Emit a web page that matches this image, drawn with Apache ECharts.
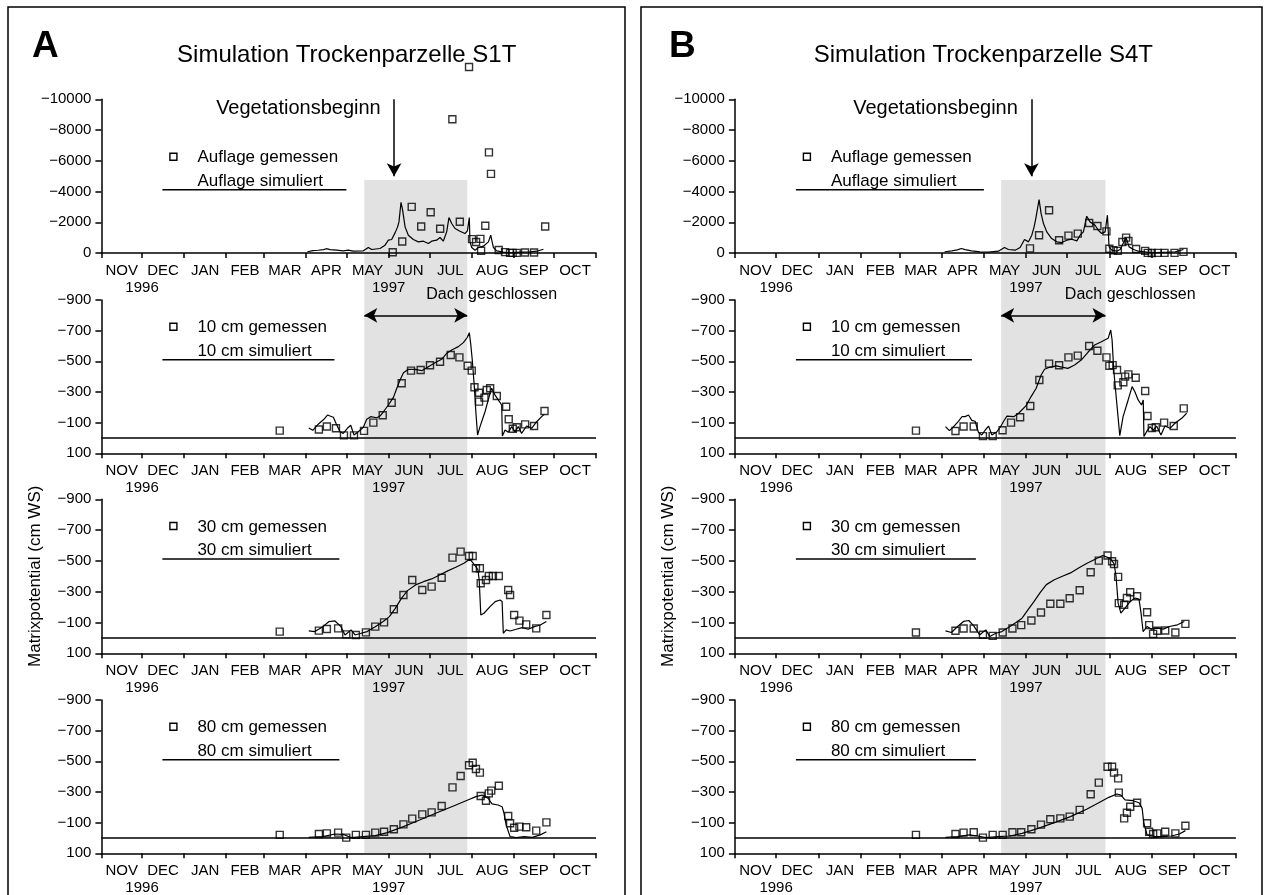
<!DOCTYPE html>
<html><head><meta charset="utf-8">
<script src="https://cdn.jsdelivr.net/npm/echarts@6/dist/echarts.min.js"></script>
<style>html,body{margin:0;padding:0;background:#fff}#c{width:1265px;height:895px}</style>
</head><body><div id="c"></div>
<script>
// ---------- axis definitions (days since 1996-11-01) ----------
const monthTicks = [0,30,61,92,120,151,181,212,242,273,304,334,365];
const monthLabels = ['NOV','DEC','JAN','FEB','MAR','APR','MAY','JUN','JUL','AUG','SEP','OCT'];
const yearLabels = ['1996','1997'];
const yearLabelDays = [30,212];
const yTicksAuflage = [-10000,-8000,-6000,-4000,-2000,0];
const yTicksSoil = [-900,-700,-500,-300,-100,100];
const shadeDays = [194,270];
const vegArrow = {day:216, from:-10000, to:-5000};
const vegText = {day:206.5, value:-9400, text:'Vegetationsbeginn'};
const roofArrow = {from:194, to:270, value:-800};
const roofText = {day:288, value:-900, text:'Dach geschlossen'};
const depthNames = ['Auflage','10 cm','30 cm','80 cm'];
const panelTitles = ['Simulation Trockenparzelle S1T','Simulation Trockenparzelle S4T'];
const panelLetters = ['A','B'];
const yAxisTitle = 'Matrixpotential (cm WS)';

// ---------- Panel A (S1T) ----------
const A_auflage_meas = [[215,-50],[222,-750],[229,-3000],[236,-1720],[243,-2650],[250,-1580],[259,-8700],[264.5,-2030],[271.3,-12100],[273.5,-900],[276.5,-720],[279.7,-920],[280.2,-150],[283.3,-1770],[286,-6550],[287.5,-5150],[293.2,-200],[297.9,-60],[301.6,-10],[303.5,-10],[306.5,-10],[312.6,-30],[319.3,-30],[327.5,-1720]];
const A_auflage_sim = [[152,-80],[156,-150],[160,-180],[164,-220],[166,-280],[168.7,-221],[173.6,-182],[178.5,-139],[182.2,-182],[185.9,-117],[193.3,-139],[197,-356],[199.5,-226],[205.6,-291],[209.3,-508],[211.8,-833],[214.2,-876],[216.7,-1310],[218.6,-1700],[219.6,-2025],[221.1,-3300],[222.3,-2784],[224.1,-1700],[226.5,-1158],[230.2,-876],[233.9,-725],[237.6,-768],[241.3,-616],[243.7,-768],[247.4,-833],[249.9,-1007],[252.3,-768],[254.8,-1375],[256.5,-2307],[258.5,-1917],[261,-1592],[264.6,-1418],[268.3,-1266],[270.1,-1440],[271.5,-2307],[272,-725],[273.3,-356],[275.7,-182],[278.2,-356],[281.9,-443],[285.6,-725],[287.3,-1158],[289.3,-356],[291.7,-139],[296.6,-52],[301.6,-9],[309,-52],[316.4,-74],[321.3,-117],[326.2,-247]];
const A_10_meas = [[131.6,-48],[160.5,-55],[166.4,-75],[173.1,-63],[179,-17],[186.4,-17],[193.8,-46],[200.7,-100],[207.6,-148],[214.2,-230],[221.6,-357],[228.5,-439],[235.6,-443],[242.5,-474],[249.9,-497],[257.8,-541],[264.2,-526],[270.3,-471],[273.3,-439],[275.3,-331],[278.7,-295],[278.7,-237],[282.7,-263],[284.4,-313],[286.9,-324],[291.8,-274],[298.7,-204],[300.6,-122],[303.6,-60],[306.5,-70],[312.7,-89],[319.3,-78],[327,-176]];
const A_10_sim = [[153,-65],[156,-50],[160,-90],[164,-120],[167,-150],[168.7,-143],[171.2,-135],[173.1,-96],[176.1,-41],[178.5,-30],[181.5,-63],[184,-83],[186.4,-19],[189.6,-41],[193.3,-70],[195.8,-122],[198.7,-139],[203.2,-132],[205.6,-143],[208.1,-171],[211.8,-215],[215.5,-265],[218,-324],[220.4,-378],[222.9,-426],[226.6,-448],[231.5,-448],[236.4,-439],[241.3,-465],[246.2,-491],[251.1,-513],[254.8,-552],[258.5,-574],[263.4,-596],[267.1,-622],[270.1,-657],[271.5,-687],[272.5,-617],[273.7,-509],[275.2,-335],[276.4,-161],[277.6,-19],[279.4,-74],[283.1,-171],[286.8,-291],[288,-324],[290.5,-280],[292.9,-248],[295.4,-215],[295.9,-13],[297.9,-52],[300.3,-37],[302.8,-74],[305.2,-41],[307.7,-74],[310.1,-30],[313.8,-78],[317.5,-63],[321.2,-106],[324.9,-139],[326.9,-154]];
const A_30_meas = [[131.6,-41],[160.5,-47],[166.4,-58],[174.7,-62],[180.7,-23],[187.8,-19],[195.2,-36],[202.1,-73],[208.6,-101],[215.8,-186],[222.9,-279],[229.4,-376],[236.8,-311],[243.7,-333],[251.1,-391],[259.1,-521],[265.1,-560],[271.3,-532],[274,-532],[276.4,-452],[279.3,-452],[279.9,-355],[283.8,-376],[285.9,-402],[288.9,-402],[293.3,-402],[300.2,-311],[301.6,-279],[304.6,-149],[308.5,-112],[313.5,-88],[320.9,-62],[328.4,-149]];
const A_30_sim = [[153,-45],[157.5,-41],[163.4,-73],[168,-106],[172.4,-110],[176.8,-73],[179.8,-19],[184.2,-52],[187.2,-19],[191.7,-30],[196.1,-41],[202.1,-73],[208,-106],[212.5,-138],[216.9,-192],[221.4,-257],[225.9,-307],[231.8,-344],[237.7,-365],[243.7,-383],[249.6,-409],[255.6,-435],[261.5,-459],[267.5,-485],[271.9,-511],[273.4,-495],[276.4,-463],[277.9,-441],[278.8,-376],[280,-149],[282.3,-160],[286.8,-203],[290.6,-236],[294.2,-246],[295.7,-236],[296.6,-30],[298.7,-52],[301.6,-45],[306.1,-56],[310.5,-67],[315,-56],[319.5,-73],[323.9,-84],[328.4,-106]];
const A_80_meas = [[131.6,-20],[160.5,-26],[166.4,-30],[174.7,-35],[180.7,-2],[187.8,-20],[195.2,-20],[202.1,-35],[208.6,-41],[215.8,-57],[222.9,-89],[229.4,-126],[236.8,-154],[243.7,-167],[251.1,-209],[259.1,-330],[265.1,-404],[271.3,-474],[274,-491],[276.4,-450],[279.3,-426],[279.9,-274],[283.8,-243],[285.9,-291],[287.7,-309],[293.3,-341],[300.2,-143],[301.6,-96],[304.6,-67],[308.5,-74],[313.5,-70],[320.9,-48],[328.4,-102]];
const A_80_sim = [[153,-4],[163.4,-9],[172.4,-26],[178.3,-24],[184.2,-2],[193.2,-9],[202.1,-15],[211,-35],[222.9,-74],[234.8,-117],[246.7,-161],[258.5,-204],[270.4,-248],[276.4,-270],[280.8,-280],[285.3,-259],[288.3,-222],[292.7,-215],[295.7,-204],[297.1,-161],[298.7,-85],[301.6,-9],[306.1,-2],[312,-9],[318,-4],[323.9,-20],[328.4,-41]];

// ---------- Panel B (S4T) ----------
const B_auflage_meas = [[215,-300],[221.6,-1150],[228.9,-2780],[236.2,-825],[243,-1130],[249.8,-1260],[258.1,-1950],[264.1,-1760],[270.7,-1410],[272.8,-280],[275.8,-180],[279,-140],[282.3,-720],[285,-1000],[286.7,-780],[292.3,-260],[298.9,-140],[300.8,-10],[303.7,0],[308.1,-10],[313,-10],[320.3,-10],[326.8,-70]];
const B_auflage_sim = [[152.8,-80],[158,-140],[162,-200],[165,-290],[167.7,-221],[172.5,-139],[178.6,-74],[184.7,-52],[192,-117],[196.4,-356],[199.3,-226],[204.2,-182],[207.8,-356],[211,-876],[213.9,-725],[216.3,-1158],[218,-1700],[219.2,-2242],[221.6,-3478],[223.1,-2567],[224.8,-1917],[227.2,-1375],[230.8,-941],[234.5,-725],[238.1,-681],[241.8,-833],[245.4,-898],[249.1,-790],[251.5,-1158],[253.9,-1375],[256.3,-2394],[258.7,-2025],[262.4,-1808],[264.8,-1483],[267.2,-1266],[269.7,-1375],[271.4,-2459],[272.6,-399],[274.6,-182],[278.2,-117],[280.7,-226],[283.1,-660],[285,-1002],[287.2,-399],[290.4,-226],[294,-117],[300.1,-52],[307.4,-30],[314.7,-52],[320.8,-74],[326.8,-226]];
const B_10_meas = [[131.9,-48],[160.7,-45],[166.6,-75],[174,-75],[180.7,-12],[187.8,-12],[195,-50],[201.2,-100],[207.8,-135],[215.2,-209],[221.8,-378],[228.9,-485],[236.2,-474],[243,-526],[249.8,-537],[258.1,-600],[264.1,-569],[270.7,-526],[272.8,-471],[275.2,-475],[278.4,-443],[278.9,-343],[283,-363],[284.3,-400],[286.7,-415],[292,-393],[298.9,-306],[300.6,-143],[303.7,-65],[306.6,-70],[312.7,-100],[319.7,-78],[327,-193]];
const B_10_sim = [[153.4,-74],[156.3,-48],[160,-80],[163,-110],[165.5,-140],[167.7,-139],[170.2,-150],[172.6,-115],[175,-109],[177.5,-35],[179.9,-20],[182.4,-52],[184.8,-78],[187.2,-20],[190.9,-41],[193.3,-70],[195.8,-109],[198.2,-143],[203.1,-139],[206.7,-161],[212,-209],[215.8,-270],[219.5,-324],[223.1,-411],[225.6,-448],[229.2,-461],[234.1,-470],[239,-461],[242.6,-454],[247.5,-476],[252.3,-508],[257.2,-559],[262.1,-607],[267,-628],[271.9,-650],[273.8,-704],[274.8,-639],[276,-443],[278,-248],[280.4,-15],[282.8,-139],[286.5,-248],[289.4,-335],[291.4,-302],[293.8,-248],[296.2,-215],[297.5,-248],[298,-9],[299.9,-41],[302.4,-74],[304.8,-52],[307.2,-78],[310.4,-20],[313.3,-78],[317,-63],[320.6,-96],[325.5,-128],[329.1,-161]];
const B_30_meas = [[131.9,-35],[160.7,-46],[166.6,-61],[174,-61],[180.7,-20],[187.8,-13],[195.1,-35],[202.2,-61],[208.6,-83],[216,-113],[223,-165],[229.8,-222],[237.1,-222],[243.9,-257],[251.2,-309],[259.2,-426],[265.1,-502],[271.5,-535],[274.8,-498],[276.2,-480],[279.2,-396],[279.7,-226],[283.6,-215],[285.6,-259],[288,-296],[293,-270],[300.3,-167],[301.8,-83],[304.7,-26],[307.7,-46],[313.5,-48],[320.9,-35],[328.2,-91]];
const B_30_sim = [[153.4,-46],[157.8,-35],[162.2,-74],[166.6,-107],[170.4,-113],[174,-78],[178.4,-20],[182.8,-52],[185.7,-9],[190.1,-30],[194.5,-41],[200.4,-74],[204.8,-100],[209.2,-128],[213.6,-183],[218,-237],[222.5,-296],[226.9,-346],[232.7,-378],[238.6,-400],[244.5,-422],[250.4,-454],[256.2,-483],[262.1,-509],[268,-535],[272.4,-520],[273.9,-510],[276.2,-483],[277.7,-400],[279.2,-226],[281.2,-161],[284.2,-193],[288,-237],[291.5,-259],[294.4,-252],[295.9,-161],[297.4,-41],[300.3,-74],[303.3,-57],[307.7,-63],[312.1,-57],[316.5,-74],[322.4,-85],[327.4,-107]];
const B_80_meas = [[131.9,-20],[160.7,-26],[166.6,-35],[174,-37],[180.7,-2],[187.8,-20],[195.1,-20],[202.2,-37],[208.6,-37],[216,-57],[223,-87],[229.8,-122],[237.1,-128],[243.9,-139],[251.2,-183],[259.2,-285],[265.1,-361],[271.5,-465],[274.8,-465],[276.2,-426],[279.2,-389],[279.7,-296],[283.6,-128],[285.6,-165],[288,-204],[293,-230],[300.3,-96],[301.8,-41],[304.7,-26],[307.7,-30],[313.5,-41],[320.9,-30],[328.2,-80]];
const B_80_sim = [[153.4,-4],[162.2,-9],[171,-20],[176.9,-13],[182.8,-2],[191.6,-9],[200.4,-13],[209.2,-30],[221,-63],[232.7,-100],[244.5,-139],[256.2,-187],[265.1,-230],[272.4,-265],[278.3,-287],[281.2,-280],[284.2,-248],[290.1,-243],[294.4,-230],[296.7,-193],[297.9,-96],[300.3,-20],[306.1,-9],[312,-9],[317.9,-13],[323.8,-26],[328.2,-48]];

const measured = [[A_auflage_meas,A_10_meas,A_30_meas,A_80_meas],[B_auflage_meas,B_10_meas,B_30_meas,B_80_meas]];
const simulated = [[A_auflage_sim,A_10_sim,A_30_sim,A_80_sim],[B_auflage_sim,B_10_sim,B_30_sim,B_80_sim]];

// ---------- layout ----------
const FONT = '"Liberation Sans", Arial, sans-serif';
const panels = [
  {x0:101.4, w:494.6, box:[8,7,617,900], letterX:32, legendLine:[245,233,238,238]},
  {x0:734.9, w:501.0, box:[641,7,621,900], letterX:669, legendLine:[249,237,241,241]}
];
const plotTops = [99.3,300,499.3,700];
const plotHeights = [153.7,153.3,154,153.3];
const shadeTop = 180, shadeBottom = 853.3;
const legendOffset = [57.4,26.7,26.7,26.7];

const midVals = monthTicks.slice(0,-1).map((d,i)=>(d+monthTicks[i+1])/2);
const xLabelVals = midVals.concat(yearLabelDays);
function xFmt(v){
  const i = midVals.findIndex(m=>Math.abs(m-v)<0.01);
  if (i>=0) return monthLabels[i];
  const j = yearLabelDays.findIndex(m=>Math.abs(m-v)<0.01);
  return j>=0 ? '\n'+yearLabels[j] : '';
}
function yFmt(v){ return v<0 ? '\u2212'+Math.abs(v) : String(v); }

const grid=[], xAxis=[], yAxis=[], series=[], graphic=[];
const black = '#000';

panels.forEach((P,pi)=>{
  // shaded "roof closed" band, spanning all four plots
  const gs = grid.length;
  grid.push({left:P.x0, top:shadeTop, width:P.w, height:shadeBottom-shadeTop, containLabel:false, outerBoundsMode:'none'});
  xAxis.push({gridIndex:gs, type:'value', min:0, max:365, show:false});
  yAxis.push({gridIndex:gs, type:'value', min:0, max:1, show:false});
  series.push({type:'line', xAxisIndex:gs, yAxisIndex:gs, data:[[shadeDays[0],0.5]], symbol:'none', lineStyle:{width:0,opacity:0}, silent:true,
    markArea:{silent:true, z:1, itemStyle:{color:'#e2e2e2'}, label:{show:false}, data:[[{xAxis:shadeDays[0]},{xAxis:shadeDays[1]}]]}});

  // panel box, letter, title
  graphic.push({type:'rect', z:-20, silent:true, shape:{x:P.box[0],y:P.box[1],width:P.box[2],height:P.box[3]}, style:{fill:'none', stroke:black, lineWidth:1.5}});
  graphic.push({type:'text', silent:true, x:P.letterX, y:47, style:{text:panelLetters[pi], fill:black, fontSize:37, fontWeight:'bold', fontFamily:'"Liberation Sans", Arial, sans-serif', align:'left', verticalAlign:'middle'}});
  graphic.push({type:'text', silent:true, x:P.x0+P.w/2-2, y:55, style:{text:panelTitles[pi], fill:black, fontSize:24, fontFamily:FONT, align:'center', verticalAlign:'middle'}});

  for (let k=0;k<4;k++){
    const gi = grid.length;
    const top = plotTops[k];
    grid.push({left:P.x0, top:top, width:P.w, height:plotHeights[k], containLabel:false, outerBoundsMode:'none'});
    xAxis.push({gridIndex:gi, type:'value', min:0, max:365, z:5,
      axisLine:{show:true, onZero:false, lineStyle:{color:black, width:1.5}},
      axisTick:{show:true, customValues:monthTicks, length:5, lineStyle:{color:black, width:1.5}},
      axisLabel:{show:true, customValues:xLabelVals, formatter:xFmt, color:black, fontSize:15, fontFamily:FONT, margin:9, lineHeight:17, hideOverlap:false, showMinLabel:true, showMaxLabel:true},
      splitLine:{show:false}});
    const ticks = k===0 ? yTicksAuflage : yTicksSoil;
    yAxis.push({gridIndex:gi, type:'value', min:ticks[0], max:ticks[ticks.length-1], inverse:true, z:5,
      axisLine:{show:true, onZero:false, lineStyle:{color:black, width:1.5}},
      axisTick:{show:true, customValues:ticks, length:6, lineStyle:{color:black, width:1.5}},
      axisLabel:{show:true, customValues:ticks, formatter:yFmt, color:black, fontSize:15, fontFamily:FONT, margin:10, hideOverlap:false},
      splitLine:{show:false},
      name: k===2 ? yAxisTitle : '', nameLocation:'middle', nameRotate:90, nameGap:58,
      nameTextStyle:{color:black, fontSize:17, fontFamily:FONT}});

    series.push({type:'line', xAxisIndex:gi, yAxisIndex:gi, data:simulated[pi][k], symbol:'none', showSymbol:false, silent:true, z:3,
      lineStyle:{color:black, width:1.2}});

    const mlData = [];
    const mpData = [];
    if (k>0) mlData.push({yAxis:0, symbol:'none'});
    if (k===0){
      mlData.push([{coord:[vegArrow.day,vegArrow.from], symbol:'none'},{coord:[vegArrow.day,vegArrow.to], symbol:'arrow', symbolSize:[11,13]}]);
      mpData.push({coord:[vegText.day,vegText.value], name:vegText.text, label:{position:'left', distance:0, fontSize:20}});
    }
    if (k===1){
      mlData.push([{coord:[roofArrow.from,roofArrow.value], symbol:'arrow', symbolSize:[11,13]},{coord:[roofArrow.to,roofArrow.value], symbol:'arrow', symbolSize:[11,13]}]);
      mpData.push({coord:[roofText.day,roofText.value], name:roofText.text, label:{position:'inside', offset:[0,-5], fontSize:16}});
    }
    series.push({type:'scatter', xAxisIndex:gi, yAxisIndex:gi, data:measured[pi][k], symbol:'rect', symbolSize:7, clip:false, silent:true, z:4,
      itemStyle:{color:'rgba(0,0,0,0)', borderColor:black, borderWidth:1.4},
      markLine:{silent:true, symbol:['none','none'], label:{show:false}, lineStyle:{color:black, width:1.5, type:'solid'}, data:mlData},
      markPoint:{silent:true, symbol:'circle', symbolSize:1, itemStyle:{color:'rgba(0,0,0,0)'},
        label:{show:true, formatter:'{b}', color:black, fontFamily:FONT}, data:mpData}});

    // legend (measured square + text, simulated text with line sample below)
    const ly = top + legendOffset[k];
    graphic.push({type:'rect', silent:true, shape:{x:P.x0+72-3.5, y:ly-3.5, width:7, height:7}, style:{fill:'none', stroke:black, lineWidth:1.4}});
    graphic.push({type:'text', silent:true, x:P.x0+96, y:ly+1, style:{text:depthNames[k]+' gemessen', fill:black, fontSize:17, fontFamily:FONT, align:'left', verticalAlign:'middle'}});
    graphic.push({type:'text', silent:true, x:P.x0+96, y:ly+24.3, style:{text:depthNames[k]+' simuliert', fill:black, fontSize:17, fontFamily:FONT, align:'left', verticalAlign:'middle'}});
    graphic.push({type:'line', silent:true, shape:{x1:P.x0+61, y1:ly+33, x2:P.x0+P.legendLine[k], y2:ly+33}, style:{stroke:black, lineWidth:1.5}});
  }
});

const chart = echarts.init(document.getElementById('c'), null, {renderer:'canvas'});
chart.setOption({animation:false, backgroundColor:'#fff', grid, xAxis, yAxis, series, graphic});
</script></body></html>
